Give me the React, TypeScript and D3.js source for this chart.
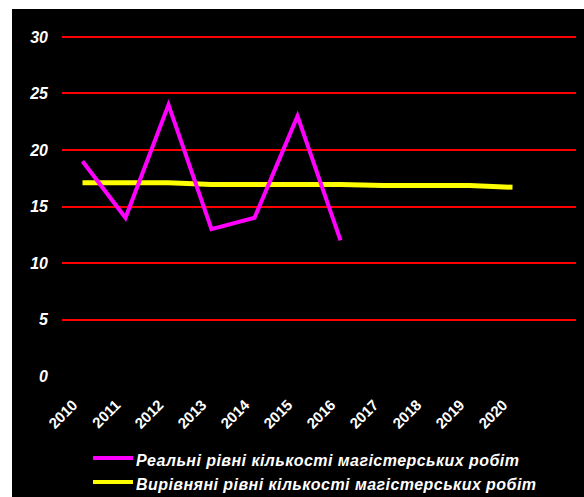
import { useEffect, useRef } from "react";
import * as d3 from "d3";

const years = ["2010", "2011", "2012", "2013", "2014", "2015", "2016", "2017", "2018", "2019", "2020"];
const realValues = [19, 14, 24, 13, 14, 23, 12];
const alignedValues = [17.1, 17.1, 17.1, 16.95, 16.95, 16.95, 16.95, 16.85, 16.85, 16.85, 16.7];
const yTicks = [0, 5, 10, 15, 20, 25, 30];
const legendLabels = [
    "Реальні рівні кількості магістерських робіт",
    "Вирівняні рівні кількості магістерських робіт",
];

export default function App() {
    const svgRef = useRef(null);

    useEffect(() => {
        const width = 584, height = 497;
        const svg = d3.select(svgRef.current)
            .attr("width", width)
            .attr("height", height);
        svg.selectAll("*").remove();

        svg.append("rect").attr("width", width).attr("height", height).attr("fill", "#fff");
        svg.append("rect").attr("x", 12).attr("y", 9).attr("width", width - 12).attr("height", height - 9).attr("fill", "#000");

        var x = d3.scalePoint().domain(years).range([82.5, 512.5]);
        var y = d3.scaleLinear().domain([0, 30]).range([376, 37]);
        const font = "'Liberation Sans', Arial, sans-serif";

        // grid lines
        svg.append("g")
            .selectAll("line")
            .data(yTicks.filter((t) => t > 0))
            .join("line")
            .attr("x1", 62)
            .attr("x2", 576)
            .attr("y1", (d) => Math.round(y(d)))
            .attr("y2", (d) => Math.round(y(d)))
            .attr("stroke", "#ff0000")
            .attr("stroke-width", 2)
            .attr("shape-rendering", "crispEdges");

        // y labels
        svg.append("g")
            .selectAll("text")
            .data(yTicks)
            .join("text")
            .attr("x", 48)
            .attr("y", (d) => y(d))
            .attr("dy", "0.36em")
            .attr("text-anchor", "end")
            .attr("fill", "#fff")
            .attr("font-family", font)
            .attr("font-weight", "bold")
            .attr("font-style", "italic")
            .attr("font-size", 16)
            .text((d) => d);

        // x labels
        svg.append("g")
            .selectAll("text")
            .data(years)
            .join("text")
            .attr("transform", (d) => `translate(${x(d) - 4}, 406) rotate(-45)`)
            .attr("text-anchor", "end")
            .attr("fill", "#fff")
            .attr("font-family", font)
            .attr("font-weight", "bold")
            .attr("font-size", 15)
            .text((d) => d);

        var line = d3.line()
            .x((d, i) => x(years[i]))
            .y((d) => y(d));

        svg.append("path")
            .attr("fill", "none")
            .attr("stroke", "#ffff00")
            .attr("stroke-width", 5)
            .attr("d", line(alignedValues));

        svg.append("path")
            .attr("fill", "none")
            .attr("stroke", "#ff00ff")
            .attr("stroke-width", 4)
            .attr("d", line(realValues));

        // legend
        const colors = ["#ff00ff", "#ffff00"];
        const lg = svg.append("g");
        legendLabels.forEach((label, i) => {
            const ly = 458 + i * 24;
            lg.append("line")
                .attr("x1", 93).attr("x2", 133)
                .attr("y1", ly).attr("y2", ly)
                .attr("stroke", colors[i])
                .attr("stroke-width", 4);
            lg.append("text")
                .attr("x", 136)
                .attr("y", ly + 8)
                .attr("fill", "#fff")
                .attr("font-family", font)
                .attr("font-weight", "bold")
                .attr("font-style", "italic")
                .attr("font-size", 16)
                .attr("letter-spacing", 0.45)
                .text(label);
        });
    }, []);

    return (
        <svg ref={svgRef} style={{ position: "absolute", left: 0, top: 0, display: "block" }}></svg>
    );
}
